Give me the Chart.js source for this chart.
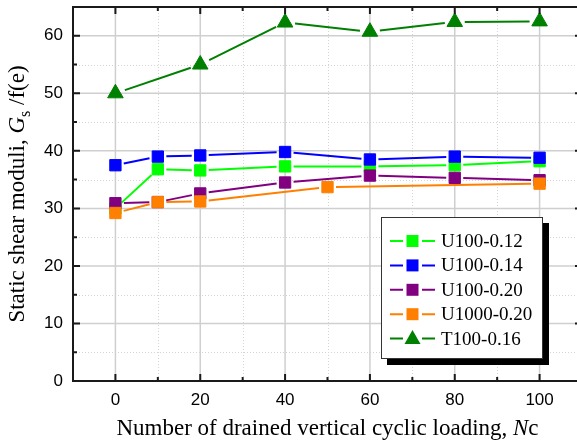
<!DOCTYPE html>
<html>
<head>
<meta charset="utf-8">
<title>Static shear moduli vs drained cyclic loading</title>
<script src="https://cdn.jsdelivr.net/npm/chart.js@4"></script>
<style>
  html, body { margin: 0; padding: 0; background: #fff; overflow: hidden; }
  canvas { display: block; }
</style>
</head>
<body>
<canvas id="modulusChart" width="582" height="443"></canvas>
<script>
// number of drained vertical cycles for each test series
const cycles = [0, 10, 20, 40, 60, 80, 100];
const cyclesU1000 = [0, 10, 20, 50, 100];
const cyclesT100 = [0, 20, 40, 60, 80, 100];

// Gs / f(e) values
const u100_012 = [30.0, 36.8, 36.6, 37.3, 37.3, 37.5, 38.2];
const u100_014 = [37.5, 39.0, 39.2, 39.8, 38.5, 39.0, 38.8];
const u100_020 = [30.9, 31.1, 32.6, 34.5, 35.7, 35.3, 34.9];
const u1000_020 = [29.2, 31.1, 31.2, 33.7, 34.3];
const t100_016 = [50.0, 55.0, 62.3, 60.7, 62.4, 62.5];

const seriesNames = ["U100-0.12", "U100-0.14", "U100-0.20", "U1000-0.20", "T100-0.16"];
const seriesColors = ["#00ff00", "#0000ff", "#800080", "#ff8000", "#008000"];

const xTicksMajor = [0, 20, 40, 60, 80, 100];
const yTicksMajor = [0, 10, 20, 30, 40, 50, 60];

const pairs = (xs, ys) => xs.map((x, i) => ({x: x, y: ys[i]}));

function series(i, xs, ys, shape) {
  const tri = shape === "triangle";
  return {
    label: seriesNames[i],
    data: pairs(xs, ys),
    showLine: false,          // connecting lines are drawn with gaps by lineGapPlugin
    borderColor: seriesColors[i],
    backgroundColor: seriesColors[i],
    borderWidth: 2,
    pointStyle: shape,
    pointRadius: tri ? 9 : 8,
    pointBorderWidth: 1,
    pointBorderColor: seriesColors[i],
    pointBackgroundColor: seriesColors[i],
    order: 10 - i   // later series sit on top
  };
}

const AXIS_SANS = "Liberation Sans, Arial, sans-serif";
const SERIF = "Liberation Serif, Times New Roman, serif";

// grid, frame and inward ticks drawn on the chart scales
const framePlugin = {
  id: "frame",
  beforeDatasetsDraw(chart) {
    const {ctx, chartArea: a, scales: {x, y}} = chart;
    ctx.save();
    ctx.lineWidth = 1;
    ctx.strokeStyle = "#d4d4d4";
    ctx.setLineDash([1, 2]);
    for (let v = 10; v <= 90; v += 20) {
      const px = Math.round(x.getPixelForValue(v)) + 0.5;
      ctx.beginPath(); ctx.moveTo(px, a.top); ctx.lineTo(px, a.bottom); ctx.stroke();
    }
    for (let v = 5; v <= 55; v += 10) {
      const py = Math.round(y.getPixelForValue(v)) + 0.5;
      ctx.beginPath(); ctx.moveTo(a.left, py); ctx.lineTo(a.right, py); ctx.stroke();
    }
    ctx.setLineDash([]);
    ctx.lineWidth = 1.5;
    ctx.strokeStyle = "#cfcfcf";
    xTicksMajor.forEach(v => {
      const px = x.getPixelForValue(v);
      ctx.beginPath(); ctx.moveTo(px, a.top); ctx.lineTo(px, a.bottom); ctx.stroke();
    });
    yTicksMajor.slice(1).forEach(v => {
      const py = y.getPixelForValue(v);
      ctx.beginPath(); ctx.moveTo(a.left, py); ctx.lineTo(a.right, py); ctx.stroke();
    });
    ctx.restore();
  },
  afterDatasetsDraw(chart) {
    const {ctx, chartArea: a, scales: {x, y}} = chart;
    ctx.save();
    ctx.strokeStyle = "#1a1a1a";
    ctx.lineWidth = 2;
    ctx.beginPath();
    ctx.moveTo(a.right, a.top); ctx.lineTo(a.left, a.top);
    ctx.lineTo(a.left, a.bottom); ctx.lineTo(a.right, a.bottom);
    ctx.lineTo(a.right, a.top);
    ctx.stroke();
    for (let v = 0; v <= 100; v += 10) {
      const len = v % 20 === 0 ? 7 : 4;
      const px = x.getPixelForValue(v);
      ctx.beginPath();
      ctx.moveTo(px, a.bottom); ctx.lineTo(px, a.bottom - len);
      ctx.moveTo(px, a.top); ctx.lineTo(px, a.top + len);
      ctx.stroke();
    }
    for (let v = 5; v <= 60; v += 5) {
      const len = v % 10 === 0 ? 7 : 4;
      const py = y.getPixelForValue(v);
      ctx.beginPath();
      ctx.moveTo(a.left, py); ctx.lineTo(a.left + len, py);
      ctx.moveTo(a.right, py); ctx.lineTo(a.right - len, py);
      ctx.stroke();
    }
    ctx.restore();
  }
};

// connecting segments that stop short of each symbol
const lineGapPlugin = {
  id: "lineGaps",
  beforeDatasetsDraw(chart) {
    const {ctx} = chart;
    ctx.save();
    ctx.lineWidth = 2;
    ctx.lineCap = "butt";
    chart.data.datasets.forEach((ds, i) => {
      const pts = chart.getDatasetMeta(i).data;
      const gap = ds.pointStyle === "triangle" ? 10 : 8.5;
      ctx.strokeStyle = ds.borderColor;
      for (let j = 1; j < pts.length; j++) {
        const p0 = pts[j - 1], p1 = pts[j];
        const dx = p1.x - p0.x, dy = p1.y - p0.y;
        const len = Math.hypot(dx, dy);
        if (len <= 2 * gap) continue;
        const ux = dx / len, uy = dy / len;
        ctx.beginPath();
        ctx.moveTo(p0.x + ux * gap, p0.y + uy * gap);
        ctx.lineTo(p1.x - ux * gap, p1.y - uy * gap);
        ctx.stroke();
      }
    });
    ctx.restore();
  }
};

function drawMarker(ctx, shape, cx, cy, color) {
  ctx.fillStyle = color;
  ctx.beginPath();
  if (shape === "triangle") {
    ctx.moveTo(cx, cy - 8.5);
    ctx.lineTo(cx + 8, cy + 5.5);
    ctx.lineTo(cx - 8, cy + 5.5);
    ctx.closePath();
  } else {
    ctx.rect(cx - 6, cy - 6, 12, 12);
  }
  ctx.fill();
}

// boxed legend with a drop shadow inside the plot
const boxLegendPlugin = {
  id: "boxLegend",
  afterDraw(chart) {
    const {ctx, chartArea: a} = chart;
    const left = a.left + 308, top = a.top + 210, w = 162, h = 142;
    ctx.save();
    ctx.fillStyle = "#000";
    ctx.fillRect(left + 6, top + 6, w, h);
    ctx.fillStyle = "#fff";
    ctx.fillRect(left, top, w, h);
    ctx.strokeStyle = "#333";
    ctx.lineWidth = 1;
    ctx.strokeRect(left + 0.5, top + 0.5, w - 1, h - 1);
    ctx.font = "19px " + SERIF;
    ctx.textBaseline = "middle";
    chart.data.datasets.forEach((ds, i) => {
      const cy = top + 24 + i * 24.4;
      ctx.strokeStyle = ds.borderColor;
      ctx.lineWidth = 2;
      ctx.beginPath();
      ctx.moveTo(left + 9, cy); ctx.lineTo(left + 22, cy);
      ctx.moveTo(left + 41, cy); ctx.lineTo(left + 54, cy);
      ctx.stroke();
      drawMarker(ctx, ds.pointStyle, left + 31.5, cy, ds.backgroundColor);
      ctx.fillStyle = "#000";
      ctx.fillText(ds.label, left + 60, cy + 1);
    });
    ctx.restore();
  }
};

// axis titles with italic symbols and a subscript
const axisTitlePlugin = {
  id: "axisTitles",
  afterDraw(chart) {
    const {ctx, chartArea: a} = chart;
    ctx.save();
    ctx.fillStyle = "#000";
    ctx.textBaseline = "alphabetic";

    const xParts = [
      {t: "Number of drained vertical cyclic loading, ", f: "23px " + SERIF},
      {t: "N", f: "italic 23px " + SERIF},
      {t: "c", f: "23px " + SERIF}
    ];
    let total = 0;
    xParts.forEach(p => { ctx.font = p.f; total += ctx.measureText(p.t).width; });
    let cx = (a.left + a.right) / 2 - total / 2;
    xParts.forEach(p => {
      ctx.font = p.f; ctx.fillText(p.t, cx, 435); cx += ctx.measureText(p.t).width;
    });

    const yParts = [
      {t: "Static shear moduli, ", f: "23px " + SERIF, dy: 0},
      {t: "G", f: "italic 23px " + SERIF, dy: 0},
      {t: "s", f: "16px " + SERIF, dy: 6},
      {t: " /f(e)", f: "23px " + SERIF, dy: 0}
    ];
    total = 0;
    yParts.forEach(p => { ctx.font = p.f; total += ctx.measureText(p.t).width; });
    ctx.translate(24, (a.top + a.bottom) / 2);
    ctx.rotate(-Math.PI / 2);
    let tx = -total / 2;
    yParts.forEach(p => {
      ctx.font = p.f; ctx.fillText(p.t, tx, p.dy); tx += ctx.measureText(p.t).width;
    });
    ctx.restore();
  }
};

new Chart(document.getElementById("modulusChart").getContext("2d"), {
  type: "scatter",
  data: {
    datasets: [
      series(0, cycles, u100_012, "rect"),
      series(1, cycles, u100_014, "rect"),
      series(2, cycles, u100_020, "rect"),
      series(3, cyclesU1000, u1000_020, "rect"),
      series(4, cyclesT100, t100_016, "triangle")
    ]
  },
  options: {
    responsive: false,
    animation: false,
    events: [],
    layout: {autoPadding: false, padding: {top: 7, right: 0, left: 0, bottom: 0}},
    plugins: {
      legend: {display: false},
      title: {display: false},
      tooltip: {enabled: false}
    },
    scales: {
      x: {
        type: "linear",
        min: -10,
        max: 110,
        grid: {display: false, drawTicks: false},
        border: {display: false},
        ticks: {
          stepSize: 10,
          autoSkip: false,
          maxRotation: 0,
          padding: 9,
          color: "#000",
          font: {family: AXIS_SANS, size: 17},
          callback: v => (v % 20 === 0 && v >= 0 && v <= 100) ? String(v) : ""
        },
        afterFit: s => { s.height = 62; s.paddingLeft = 0; s.paddingRight = 0; }
      },
      y: {
        type: "linear",
        min: 0,
        max: 65,
        grid: {display: false, drawTicks: false},
        border: {display: false},
        ticks: {
          stepSize: 5,
          autoSkip: false,
          padding: 10,
          color: "#000",
          font: {family: AXIS_SANS, size: 17},
          callback: v => v % 10 === 0 ? String(v) : ""
        },
        afterFit: s => { s.width = 73; s.paddingTop = 0; s.paddingBottom = 0; }
      }
    }
  },
  plugins: [framePlugin, lineGapPlugin, boxLegendPlugin, axisTitlePlugin]
});
</script>
</body>
</html>
